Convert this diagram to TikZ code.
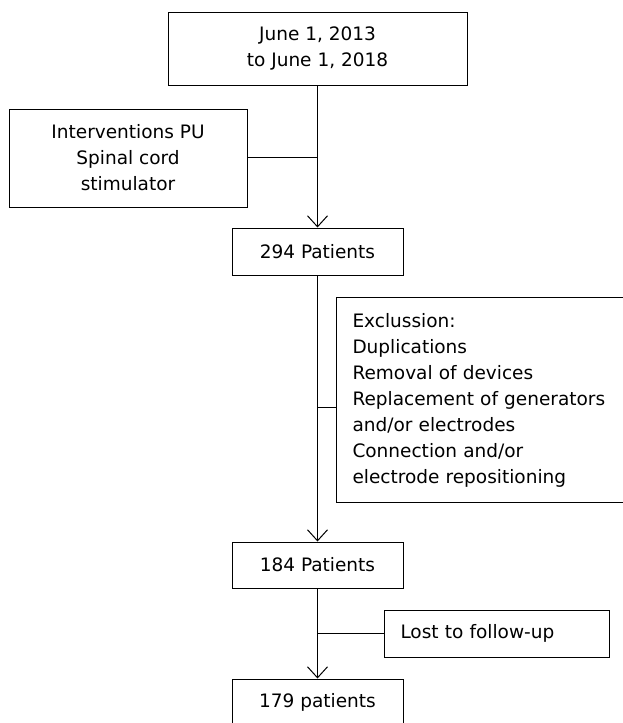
\documentclass[tikz,border=0pt]{standalone}
\usepackage{fontspec}
\setmainfont{DejaVu Sans}
\usetikzlibrary{arrows.meta}
\begin{document}
\begin{tikzpicture}[x=1pt,y=-1pt,
  box/.style={draw, line width=1pt, align=center, inner sep=0pt, font=\fontsize{18.5}{26}\selectfont},
  conn/.style={line width=1pt},
  arr/.style={conn,-{Straight Barb[length=11pt,width=20pt,line width=1pt]}}]
\useasboundingbox (0,0) rectangle (622,723);
\node[box, minimum width=299pt, minimum height=73pt] (top) at (317.5,48.5) {June 1, 2013\\to June 1, 2018};
\node[box, minimum width=238pt, minimum height=98pt] (left) at (128,158) {Interventions PU\\Spinal cord\\stimulator};
\node[box, minimum width=171pt, minimum height=47pt] (p294) at (317.5,251.5) {294 Patients};
\node[box, align=left, anchor=north west, inner xsep=16pt, text width=255pt, minimum height=205pt] (excl) at (336,297) {Exclussion:\\Duplications\\Removal of devices\\Replacement of generators\\and/or electrodes\\Connection and/or\\electrode repositioning};
\node[box, minimum width=171pt, minimum height=46pt] (p184) at (317.5,565) {184 Patients};
\node[box, align=left, anchor=west, inner xsep=16pt, text width=193pt, minimum height=47pt] (lost) at (384,633.5) {Lost to follow-up};
\node[box, minimum width=171pt, minimum height=47pt] (p179) at (317.5,702.5) {179 patients};
\coordinate (j1) at (317.5,157);
\coordinate (j2) at (317.5,407);
\draw[arr] (top) -- (p294);
\draw[conn] (j1 -| left.east) -- (j1);
\draw[arr] (p294) -- (p184);
\draw[conn] (j2) -- (j2 -| excl.west);
\draw[arr] (p184) -- (p179);
\draw[conn] (lost.west) -- (lost.west -| p184.south);
\end{tikzpicture}
\end{document}
